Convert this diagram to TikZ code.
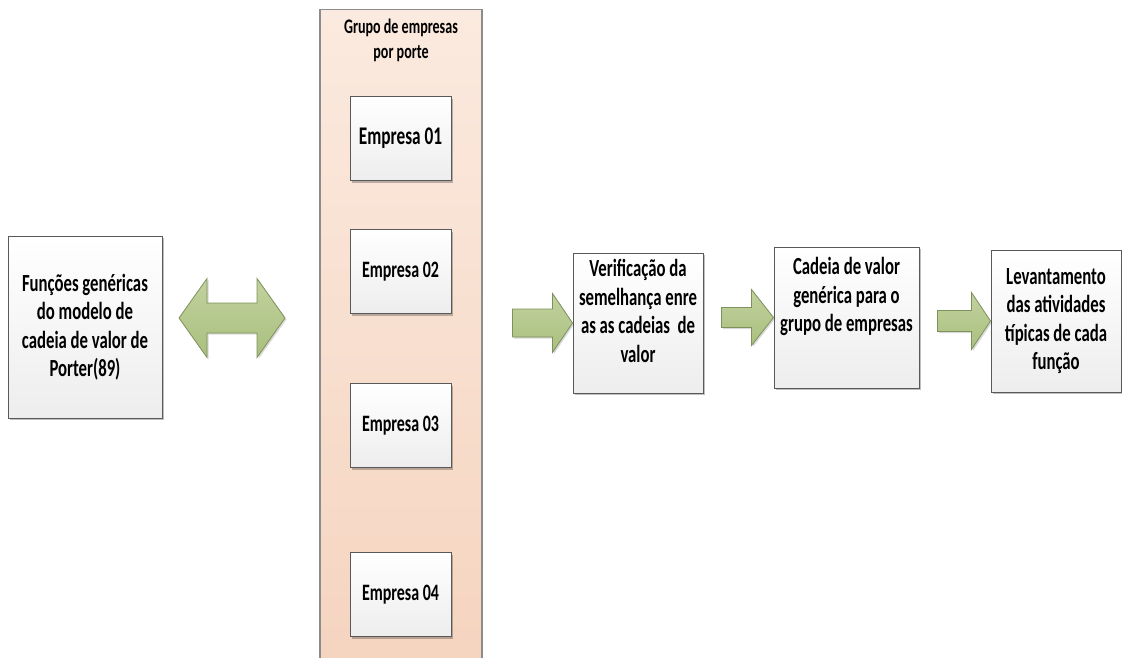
\documentclass[tikz,border=0pt]{standalone}
\usepackage{fontspec}
\setmainfont{Carlito}[FakeStretch=0.68]
\usetikzlibrary{shadows}

\definecolor{boxline}{HTML}{595959}
\definecolor{groupline}{HTML}{8C8C8C}
\definecolor{peachtop}{HTML}{FBEADF}
\definecolor{peachbot}{HTML}{F5D4BF}
\definecolor{arrowtop}{HTML}{C2D29E}
\definecolor{arrowbot}{HTML}{A9BF7E}
\definecolor{arrowline}{HTML}{7E905C}

% seta de bloco: alvo, comprimento, ponta, meia haste, meia ponta
\newcommand{\flecha}[5]{%
  \draw[blockarrow] (#1.west) -- ++(-#3,-#5) -- ++(0,{#5-#4}) -- ++({-(#2-#3)},0)
    -- ++(0,{2*#4}) -- ++({#2-#3},0) -- ++(0,{#5-#4}) -- cycle;}

\begin{document}
\begin{tikzpicture}[x=1pt, y=-1pt, font=\bfseries\fontsize{24.6}{28.5}\selectfont,
    box/.style={draw=boxline, line width=1pt, top color=white, bottom color=black!7,
      align=center, inner sep=0pt,
      drop shadow={shadow xshift=2pt, shadow yshift=-2pt, opacity=0.25, fill=black}},
    boxtext/.style={align=center, inner sep=0pt},
    blockarrow/.style={draw=arrowline, line width=0.8pt, top color=arrowtop,
      bottom color=arrowbot, line join=miter,
      drop shadow={shadow xshift=1.5pt, shadow yshift=-1.5pt, opacity=0.15, fill=black}}]
  \useasboundingbox (0,0) rectangle (1122,657);

  % modelo de Porter
  \node[box, minimum width=154pt, minimum height=182pt] (porter) at (85,327)
    {Funções genéricas\\do modelo de\\cadeia de valor de\\Porter(89)};

  \coordinate (dupla) at (232,318);
  \draw[blockarrow] ([xshift=-53pt]dupla) -- ++(28,-39.5) -- ++(0,24.5) -- ++(50,0)
    -- ++(0,-24.5) -- ++(28,39.5) -- ++(-28,39.5) -- ++(0,-24.5) -- ++(-50,0)
    -- ++(0,24.5) -- cycle;

  % grupo de empresas
  \node[draw=groupline, line width=1.2pt, top color=peachtop, bottom color=peachbot,
    minimum width=162pt, minimum height=662pt, anchor=north] (grupo) at (401,9) {};
  \node[boxtext, font=\bfseries\fontsize{20.7}{25}\selectfont] (grupo-t) at (401,40.5)
    {Grupo de empresas\\por porte};
  \foreach \n/\y/\s in {01/138.5/25.4, 02/271.5/23.5, 03/425.5/23.5, 04/594.5/23.5} {
    \node[box, minimum width=101pt, minimum height=84pt,
      font=\bfseries\fontsize{\s}{28}\selectfont] (emp\n) at (400.5,\y) {Empresa \n};
  }

  % etapas
  \node[box, minimum width=130pt, minimum height=140pt] (verif) at (638,323) {};
  \node[boxtext] (verif-t) at ([yshift=12pt]verif.center)
    {Verificação da\\semelhança enre\\as as cadeias~ de\\valor};
  \node[box, minimum width=145pt, minimum height=141pt] (cadeia) at (846.5,317.5) {};
  \node[boxtext] (cadeia-t) at ([yshift=21pt]cadeia.center)
    {Cadeia de valor\\genérica para o\\grupo de empresas};
  \node[box, minimum width=130pt, minimum height=142pt] (levant) at (1056,321)
    {Levantamento\\das atividades\\típicas de cada\\função};

  \flecha{verif}{60}{20}{14}{29.5}
  \flecha{cadeia}{52}{22}{10}{28}
  \flecha{levant}{53}{19}{10.5}{28.5}
\end{tikzpicture}
\end{document}
